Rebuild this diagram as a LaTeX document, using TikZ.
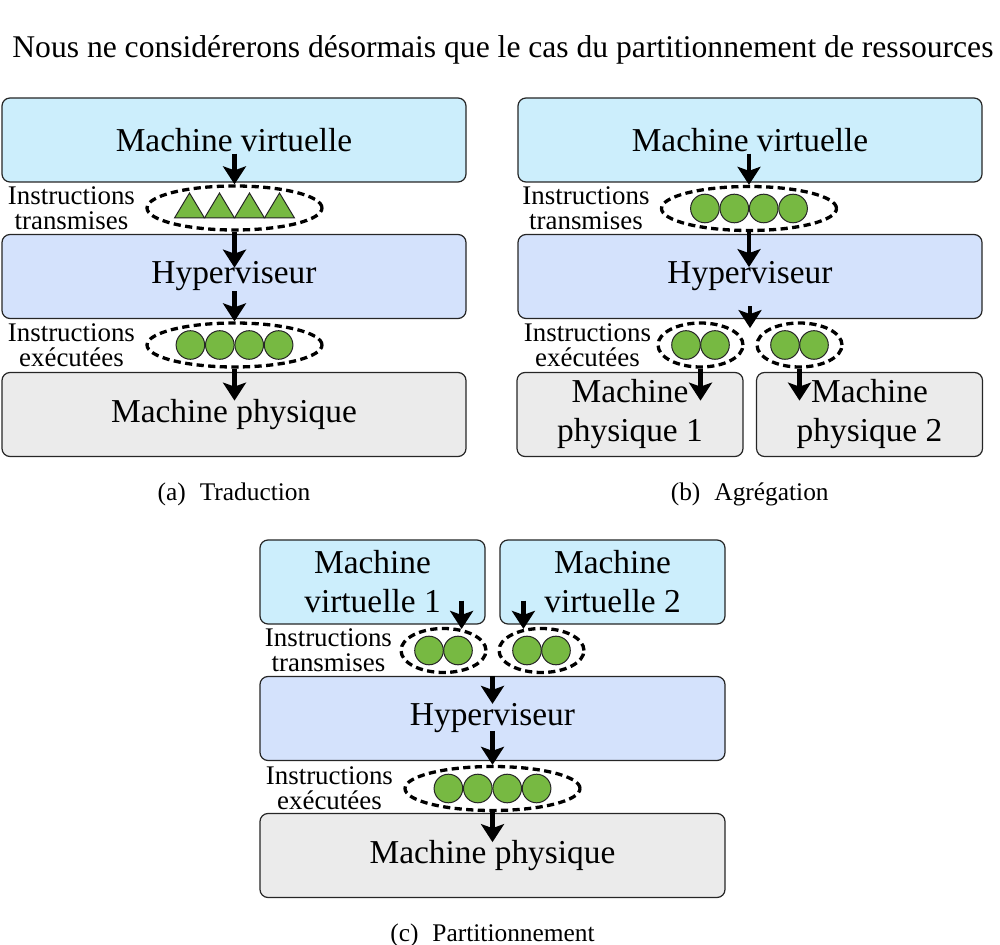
\documentclass[tikz,border=0pt]{standalone}
\usepackage{fontspec}
\setmainfont{Liberation Serif}
\usetikzlibrary{arrows.meta,positioning,shapes.geometric,calc}
\definecolor{vmcyan}{RGB}{204,238,252}
\definecolor{hypblue}{RGB}{212,226,252}
\definecolor{physgray}{RGB}{235,235,235}
\definecolor{instgreen}{RGB}{119,185,66}

\tikzset{
  layer/.style={draw=black!85,line width=0.6pt,rounded corners=4pt,align=center,
    inner sep=0pt,font=\fontsize{16.7}{19.5}\selectfont},
  vm/.style={layer,fill=vmcyan},
  hyp/.style={layer,fill=hypblue},
  phys/.style={layer,fill=physgray},
  wide/.style={minimum width=232pt,minimum height=42pt},
  half/.style={minimum width=112.5pt,minimum height=42pt},
  batch/.style={ellipse,draw,line width=1.65pt,dash pattern=on 3.6pt off 2.2pt,
    minimum height=22pt,inner sep=0pt},
  batchfour/.style={batch,minimum width=87.5pt},
  batchtwo/.style={batch,minimum width=42.5pt},
  instr/.style={circle,draw=black!85,line width=0.5pt,fill=instgreen,
    minimum size=14.3pt,inner sep=0pt},
  tri/.style={draw=black!85,line width=0.5pt,fill=instgreen},
  lbl/.style={align=center,inner sep=0pt,font=\fontsize{13.45}{12.5}\selectfont},
  subcap/.style={inner sep=0pt,anchor=north,font=\fontsize{12.7}{15}\selectfont},
  flow/.style={line width=2.3pt,-{Stealth[length=9pt,width=11.5pt,inset=2pt]}}
}

\begin{document}
\begin{tikzpicture}[x=0.5pt,y=-0.5pt]
  \useasboundingbox (0,0) rectangle (1000,945);
  \node[anchor=base west,inner sep=0pt,font=\fontsize{15.8}{19}\selectfont] (intro) at (12,58)
    {Nous ne considérerons désormais que le cas du partitionnement de ressources};

  % (a) traduction
  \node[vm,wide] (vmA) at (234,140) {Machine virtuelle};
  \node[hyp,wide] (hypA) at (234,276.5) {Hyperviseur};
  \node[phys,wide] (physA) at (234,414.5) {Machine physique};
  \node[batchfour] (trA) at (234.5,208) {};
  \node[batchfour] (exA) at (234.5,345) {};
  \foreach \k in {0,...,3}
    \draw[tri] ($(trA.center)+(-60+30*\k,10)$) -- ++(30,0) -- ++(-15,-25) -- cycle;
  \foreach \k in {1,...,4}
    \node[instr] (exA-\k) at ($(exA.center)+(-73.5+29.4*\k,0)$) {};
  \node[lbl,left=5pt of trA] (lblAtr) {Instructions\\transmises};
  \node[lbl,left=5pt of exA] (lblAex) {Instructions\\exécutées};
  \draw[flow] ($(vmA.south -| trA.north)+(0,-29)$) -- (trA.north);
  \draw[flow] (trA.south) -- ++(0,36);
  \draw[flow] ($(hypA.south -| exA.north)+(0,-28)$) -- (exA.north);
  \draw[flow] (exA.south) -- ++(0,32);
  \node[subcap,below=12.5pt of physA] (capA) {(a)\hspace{0.55em}Traduction};

  % (b) agregation
  \node[vm,wide] (vmB) at (750,140) {Machine virtuelle};
  \node[hyp,wide] (hypB) at (750,276.5) {Hyperviseur};
  \node[phys,half,minimum width=113pt] (physB1) at (630,414.5) {Machine\\physique 1};
  \node[phys,half,minimum width=113pt] (physB2) at (869.5,414.5) {Machine\\physique 2};
  \node[batchfour] (trB) at (749,208.5) {};
  \node[batchtwo] (exB1) at (700.5,345) {};
  \node[batchtwo] (exB2) at (799.5,345) {};
  \foreach \k in {1,...,4}
    \node[instr] (trB-\k) at ($(trB.center)+(-73.5+29.4*\k,0)$) {};
  \node[lbl,left=5pt of trB] (lblBtr) {Instructions\\transmises};
  \node[lbl,left=2.5pt of exB1] (lblBex) {Instructions\\exécutées};
  \coordinate (splitB) at ($(hypB.south)+(0,9)$);
  \draw[flow] ($(vmB.south -| trB.north)+(0,-29)$) -- (trB.north);
  \draw[flow] (trB.south) -- ++(0,35);
  \draw[flow] ($(hypB.south)+(0,-13)$) -- (splitB);
  \draw[flow] (exB1.south) -- ++(0,32);
  \draw[flow] (exB2.south) -- ++(0,32);
  \node[subcap] (capB) at ($(physB1.south)!.5!(physB2.south)+(0,25)$) {(b)\hspace{0.55em}Agrégation};

  % (c) partitionnement
  \node[vm,half] (vmC1) at (372.5,582) {Machine\\virtuelle 1};
  \node[vm,half] (vmC2) at (612.5,582) {Machine\\virtuelle 2};
  \node[hyp,wide,minimum width=232.5pt] (hypC) at (492.5,718.5) {Hyperviseur};
  \node[phys,wide,minimum width=232.5pt] (physC) at (492.5,855.5) {Machine physique};
  \node[batchtwo] (trC1) at (443.5,650.5) {};
  \node[batchtwo] (trC2) at (541.5,650.5) {};
  \node[batchfour] (exC) at (492.5,788.5) {};
  \node[lbl,left=3.5pt of trC1] (lblCtr) {Instructions\\transmises};
  \node[lbl,left=5pt of exC] (lblCex) {Instructions\\exécutées};
  \draw[flow] ($(vmC1.south -| trC1.50)+(0,-24)$) -- (trC1.50);
  \draw[flow] ($(vmC2.south -| trC2.130)+(0,-24)$) -- (trC2.130);
  \draw[flow] (hypC.north) -- ++(0,28);
  \draw[flow] ($(exC.north)+(0,-34)$) -- (exC.north);
  \draw[flow] (exC.south) -- ++(0,30);
  \node[subcap,below=12.5pt of physC] (capC) {(c)\hspace{0.55em}Partitionnement};

  % instructions
  \foreach \e in {exB1,exB2,trC1,trC2}
    \foreach \k in {1,2}
      \node[instr] (\e-\k) at ($(\e.center)+(-43.5+29*\k,0)$) {};
  \foreach \k in {1,...,4}
    \node[instr] (exC-\k) at ($(exC.center)+(-73.5+29.4*\k,0)$) {};
\end{tikzpicture}
\end{document}
